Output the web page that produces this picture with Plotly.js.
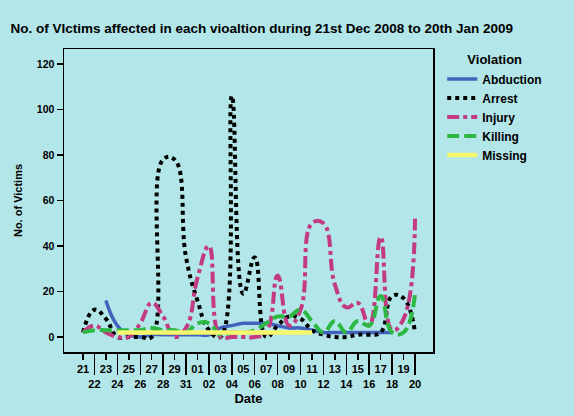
<!DOCTYPE html>
<html>
<head>
<meta charset="utf-8">
<script src="https://cdn.plot.ly/plotly-3.0.1.min.js"></script>
<style>html,body{margin:0;padding:0;background:#B3E6E8;}</style>
</head>
<body>
<div id="chart" style="width:574px;height:416px;"></div>
<script>
const dates = ['21','22','23','24','25','26','27','28','29','31','01','02','03','04','05','06','07','08','09','10','11','12','13','14','15','16','17','18','19','20'];
const abduction = [null,null,16,5,1,0,1,1,1,1, 1,1,4,5,6,6,6,5,4,4, 3,2,2,2,2,2,2,2,null,null];
const arrest    = [2,12,8,0,0,0,0,78,78,35, 16,3,0,106,19,35,0,5,9,8, 3,1,0,0,1,1,2,18,17,2];
const injury    = [2,5,2,0,0,6,15,9,0,4, 26,40,0,0,0,0,2,27,5,12, 50,50,23,13,15,5,44,3,8,52];
const killing   = [2,3,3,3,3,3,4,3,3,2, 6,6,1,2,2,3,6,9,9,12, 7,2,7,2,7,5,18,2,2,19];
const missing   = [null,null,null,2,2,2,2,2,2,2, 2,2,2,2,2,2,2,2,2,2, 2,null,null,null,null,null,null,null,null,null];
const yTicks = [0,20,40,60,80,100,120];

const xIdx = dates.map((d,i)=>i);
const upperVals = xIdx.filter(i=>i%2===0);
const lowerVals = xIdx.filter(i=>i%2===1);
const FAM = 'Liberation Sans, Arial, sans-serif';

function tr(name, y, color, width, dash, xa){
  return {x:xIdx, y:y, name:name, type:'scatter', mode:'lines', xaxis:xa||'x', yaxis:'y',
    line:{color:color, width:width, dash:dash, shape:'spline', smoothing:1.3},
    connectgaps:false, hoverinfo:'skip'};
}
const data = [
  tr('Abduction', abduction, '#4262BD', 3.5, 'solid'),
  tr('Arrest', arrest, '#000000', 4, 'dot'),
  tr('Injury', injury, '#C23B82', 4, 'dashdot'),
  tr('Killing', killing, '#2DB844', 4, '12px,5px'),
  tr('Missing', missing, '#F7F76E', 4.5, 'solid', 'x2')
];
const xr = [-1.66, 30.57];
const tickF = {family:FAM, size:11, color:'#000', weight:'bold'};
const layout = {
  width:574, height:416,
  paper_bgcolor:'#B3E6E8', plot_bgcolor:'#B3E6E8',
  margin:{l:64, r:141, t:49, b:64},
  font:{family:FAM, color:'#000'},
  showlegend:true,
  title:{text:'No. of VIctims affected in each vioaltion during 21st Dec 2008 to 20th Jan 2009',
    font:{family:FAM, size:13.5, color:'#000', weight:'bold'},
    x:0.456, xref:'container', xanchor:'center', y:0.933, yref:'container', yanchor:'middle'},
  xaxis:{range:xr, tickmode:'array', tickvals:upperVals, ticktext:upperVals.map(i=>dates[i]),
    ticks:'outside', ticklen:6, tickwidth:1.5, tickcolor:'#000',
    showline:true, linecolor:'#000', linewidth:1.5, mirror:true,
    showgrid:false, zeroline:false, tickfont:tickF, automargin:false, fixedrange:true},
  xaxis2:{overlaying:'x', anchor:'y', side:'bottom', range:xr, tickmode:'array',
    tickvals:lowerVals, ticktext:lowerVals.map(i=>dates[i]),
    ticks:'outside', ticklen:22, tickwidth:1.5, tickcolor:'#000',
    showline:false, showgrid:false, zeroline:false, tickfont:tickF, automargin:false,
    title:{text:'Date', font:{family:FAM, size:13, color:'#000', weight:'bold'}, standoff:4}},
  yaxis:{range:[-6.6,126.6], tickmode:'array', tickvals:yTicks,
    ticks:'outside', ticklen:6, tickwidth:1.5, tickcolor:'#000',
    showline:true, linecolor:'#000', linewidth:1.5, mirror:true,
    showgrid:false, zeroline:false, tickfont:{family:FAM, size:10.5, color:'#000', weight:'bold'}, automargin:false,
    title:{text:'No. of Victims', font:{family:FAM, size:11, color:'#000', weight:'bold'}, standoff:12}},
  legend:{x:1.025, y:1.005, xanchor:'left', yanchor:'top', bgcolor:'rgba(0,0,0,0)', itemwidth:30,
    title:{text:'Violation', side:'top center', font:{family:FAM, size:13, color:'#000', weight:'bold'}},
    font:{family:FAM, size:12, color:'#000', weight:'bold'}, tracegroupgap:0}
};
Plotly.newPlot('chart', data, layout, {staticPlot:true, displayModeBar:false});
</script>
</body>
</html>
